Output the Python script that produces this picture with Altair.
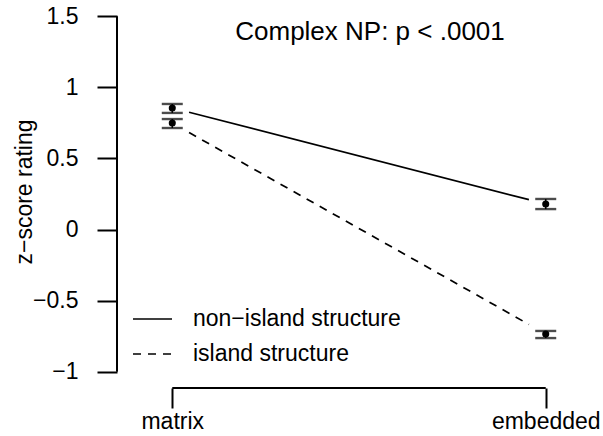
import altair as alt
import pandas as pd

# ---- data ----
conditions = ["matrix", "embedded"]
cond_index = [1, 2]
series_names = ["non\u2212island structure", "island structure"]

nonisland_mean = [0.855, 0.180]
nonisland_lo = [0.820, 0.144]
nonisland_hi = [0.883, 0.215]

island_mean = [0.749, -0.734]
island_lo = [0.714, -0.763]
island_hi = [0.777, -0.713]

y_ticks = [-1, -0.5, 0, 0.5, 1, 1.5]
title_text = "Complex NP: p < .0001"
y_title = "z\u2212score rating"

FONT = "Liberation Sans"
FS = 23

rows = []
for name, m, lo, hi in [(series_names[0], nonisland_mean, nonisland_lo, nonisland_hi),
                        (series_names[1], island_mean, island_lo, island_hi)]:
    for c, xi, mv, l, h in zip(conditions, cond_index, m, lo, hi):
        rows.append({"series": name, "cond": c, "x": xi, "mean": mv, "lo": l, "hi": h})
pts = pd.DataFrame(rows)

seg = pd.DataFrame({
    "series": series_names,
    "m1": [nonisland_mean[0], island_mean[0]],
    "m2": [nonisland_mean[1], island_mean[1]],
    "x1": [cond_index[0]] * 2,
    "x2": [cond_index[1]] * 2,
})

xs = alt.Scale(domain=[0.852, 2.148], nice=False, zero=False)
ys = alt.Scale(domain=[-1.1, 1.6], nice=False, zero=False)

GAP = 0.045

base_seg = alt.Chart(seg).transform_calculate(
    xa=f"datum.x1 + {GAP}*(datum.x2-datum.x1)",
    xb=f"datum.x2 - {GAP}*(datum.x2-datum.x1)",
    ya=f"datum.m1 + {GAP}*(datum.m2-datum.m1)",
    yb=f"datum.m2 - {GAP}*(datum.m2-datum.m1)",
)

solid = base_seg.transform_filter(alt.datum.series == series_names[0]).mark_rule(
    color="black", strokeWidth=1.7
).encode(
    x=alt.X("xa:Q", scale=xs, axis=alt.Axis(
        values=cond_index, labelExpr=f"{conditions}[datum.value - 1]",
        domain=False, grid=False, ticks=True, tickSize=20, tickWidth=2, tickColor="black",
        labelFont=FONT, labelFontSize=FS, labelColor="black", labelPadding=2,
        offset=2, title=None)),
    x2="xb:Q",
    y=alt.Y("ya:Q", scale=ys, axis=alt.Axis(
        values=y_ticks, format="~g", domain=False, grid=False, ticks=True,
        tickSize=20, tickWidth=2, tickColor="black",
        labelFont=FONT, labelFontSize=FS, labelColor="black", labelPadding=19,
        title=None)),
    y2="yb:Q",
)

dashed = base_seg.transform_filter(alt.datum.series == series_names[1]).mark_rule(
    color="black", strokeWidth=1.7, strokeDash=[8, 7]
).encode(x=alt.X("xa:Q", scale=xs), x2="xb:Q", y=alt.Y("ya:Q", scale=ys), y2="yb:Q")

stems = alt.Chart(pts).mark_rule(color="black", strokeWidth=1.5).encode(
    x=alt.X("x:Q", scale=xs), y=alt.Y("lo:Q", scale=ys), y2="hi:Q")
caps_lo = alt.Chart(pts).mark_tick(color="black", orient="horizontal", size=21, thickness=2.4).encode(
    x=alt.X("x:Q", scale=xs), y=alt.Y("lo:Q", scale=ys))
caps_hi = alt.Chart(pts).mark_tick(color="black", orient="horizontal", size=21, thickness=2.4).encode(
    x=alt.X("x:Q", scale=xs), y=alt.Y("hi:Q", scale=ys))
dots = alt.Chart(pts).mark_point(filled=True, color="black", opacity=1, size=50, shape="circle").encode(
    x=alt.X("x:Q", scale=xs), y=alt.Y("mean:Q", scale=ys))

# axis lines spanning only the tick range (R style)
ax_df = pd.DataFrame({"ymin": [min(y_ticks)], "ymax": [max(y_ticks)],
                      "xmin": [min(cond_index)], "xmax": [max(cond_index)]})
yaxis_line = alt.Chart(ax_df).mark_rule(color="black", strokeWidth=2).encode(
    x=alt.value(0), y=alt.Y("ymin:Q", scale=ys), y2="ymax:Q")
xaxis_line = alt.Chart(ax_df).mark_rule(color="black", strokeWidth=2).encode(
    y=alt.value(386), x=alt.X("xmin:Q", scale=xs), x2="xmax:Q")

title = alt.Chart(pd.DataFrame({"t": [title_text]})).mark_text(
    font=FONT, fontSize=26, color="black", align="center", baseline="middle"
).encode(x=alt.value(253), y=alt.value(30), text="t:N")

ytitle = alt.Chart(pd.DataFrame({"t": [y_title]})).mark_text(
    font=FONT, fontSize=FS, color="black", align="center", baseline="middle", angle=270
).encode(x=alt.value(-92), y=alt.value(190), text="t:N")

leg_solid = alt.Chart(pd.DataFrame({"a": [0]})).mark_rule(color="black", strokeWidth=1.7).encode(
    x=alt.value(16), x2=alt.value(55), y=alt.value(317))
leg_dash = alt.Chart(pd.DataFrame({"a": [0]})).mark_rule(
    color="black", strokeWidth=1.7, strokeDash=[8, 7]).encode(
    x=alt.value(16), x2=alt.value(56), y=alt.value(352))
leg_text = alt.Chart(pd.DataFrame({"t": series_names, "yy": [317, 352]})).mark_text(
    font=FONT, fontSize=FS, color="black", align="left", baseline="middle"
).encode(x=alt.value(76), y=alt.Y("yy:Q", scale=None), text="t:N")

chart = alt.layer(
    solid, dashed, stems, caps_lo, caps_hi, dots, yaxis_line, xaxis_line,
    title, ytitle, leg_solid, leg_dash, leg_text
).properties(
    width=484, height=384,
    autosize=alt.AutoSizeParams(type="none"),
    padding={"left": 117, "top": 2, "right": 2, "bottom": 50},
    background="white",
).configure_view(stroke=None)

chart.save("out.html", embed_options={"renderer": "svg", "actions": False})
